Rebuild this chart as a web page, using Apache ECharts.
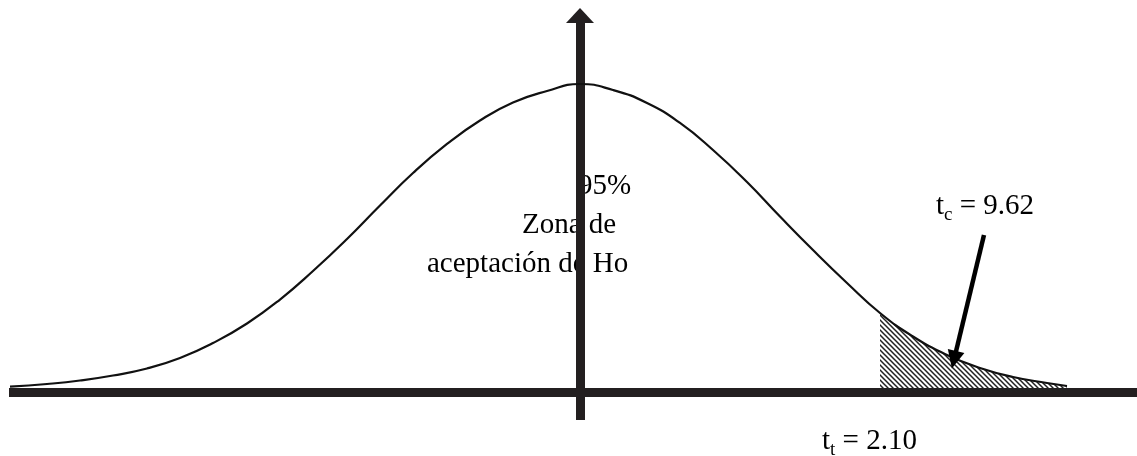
<!DOCTYPE html>
<html>
<head>
<meta charset="utf-8">
<script src="https://cdn.jsdelivr.net/npm/echarts@6/dist/echarts.min.js"></script>
<style>
  html, body { margin: 0; padding: 0; background: #fff; }
  #chart { width: 1137px; height: 456px; }
</style>
</head>
<body>
<div id="chart"></div>
<script>
// curve: x in t units, y as density height (peak 0.4)
var curveX = [-5.70, -5.33, -5.00, -4.67, -4.33, -4.00, -3.67, -3.33, -3.00,
              -2.67, -2.33, -2.00, -1.67, -1.33, -1.00, -0.67, -0.33, 0,
              0.33, 0.67, 1.00, 1.33, 1.67, 2.00, 2.33, 2.67, 3.00,
              3.33, 3.67, 4.00, 4.33, 4.67, 4.87];
var curveY = [0.0069, 0.0104, 0.0149, 0.0214, 0.0305, 0.0442, 0.0636, 0.0890, 0.1201,
              0.1571, 0.1987, 0.2422, 0.2844, 0.3221, 0.3526, 0.3760, 0.3909, 0.4000,
              0.3922, 0.3753, 0.3494, 0.3143, 0.2727, 0.2279, 0.1844, 0.1416, 0.1026,
              0.0721, 0.0481, 0.0312, 0.0195, 0.0117, 0.0078];
var rejectFrom = 3.00;           // start of the hatched region
var pointerLine = [[4.04, 0.2039], [3.74, 0.042]];   // annotation arrow, data coords

var curve = curveX.map(function (x, i) { return [x, curveY[i]]; });
var tail = curve.filter(function (p) { return p[0] >= rejectFrom; });

// diagonal hatching
var hatch = document.createElement('canvas');
hatch.width = 5; hatch.height = 5;
var hc = hatch.getContext('2d');
hc.strokeStyle = '#222';
hc.lineWidth = 1.5;
hc.beginPath();
hc.moveTo(-1, -1); hc.lineTo(6, 6);
hc.moveTo(-1, 4); hc.lineTo(1, 6);
hc.moveTo(4, -1); hc.lineTo(6, 1);
hc.stroke();

var ink = '#231f20';
var serif = '"Liberation Serif", "Times New Roman", serif';
var subRich = {
    m: { fontFamily: serif, fontSize: 29, fill: '#000', lineHeight: 29, verticalAlign: 'bottom' },
    s: { fontFamily: serif, fontSize: 19, fill: '#000', lineHeight: 29, verticalAlign: 'bottom', padding: [0, 0, -4, 0] }
};

var myChart = echarts.init(document.getElementById('chart'));

var option = {
    animation: false,
    grid: { left: 9, right: 0, top: 15.5, bottom: 36 },
    xAxis: {
        type: 'value',
        min: -5.71,
        max: 5.57,
        axisLine: { onZero: true, lineStyle: { color: ink, width: 9, cap: 'butt' } },
        axisTick: { show: false },
        axisLabel: { show: false },
        splitLine: { show: false }
    },
    yAxis: {
        type: 'value',
        min: -28 / 770,
        max: 376.5 / 770,
        axisLine: {
            show: true,
            onZero: true,
            symbol: ['none', 'triangle'],
            symbolSize: [28, 15],
            lineStyle: { color: ink, width: 9, cap: 'butt' }
        },
        axisTick: { show: false },
        axisLabel: { show: false },
        splitLine: { show: false }
    },
    series: [
        {
            type: 'line',
            data: tail,
            smooth: true,
            showSymbol: false,
            lineStyle: { width: 0 },
            areaStyle: { color: { image: hatch, repeat: 'repeat' }, opacity: 1 },
            z: 1
        },
        {
            type: 'line',
            data: curve,
            smooth: true,
            showSymbol: false,
            lineStyle: { color: '#111', width: 2.2 },
            z: 3,
            markLine: {
                silent: true,
                symbol: ['none', 'triangle'],
                symbolSize: [17, 18],
                label: { show: false },
                lineStyle: { color: '#000', width: 4.5, type: 'solid' },
                data: [[{ coord: pointerLine[0] }, { coord: pointerLine[1] }]]
            }
        }
    ],
    graphic: [
        { type: 'text', left: 578, top: 172, style: { text: '95%', font: '29px ' + serif, fill: '#000' } },
        { type: 'text', left: 522, top: 211, style: { text: 'Zona de', font: '29px ' + serif, fill: '#000' } },
        { type: 'text', left: 427, top: 250, style: { text: 'aceptación de Ho', font: '29px ' + serif, fill: '#000' } },
        { type: 'text', left: 936, top: 192, style: { text: '{m|t}{s|c}{m| = 9.62}', rich: subRich } },
        { type: 'text', left: 822, top: 427, style: { text: '{m|t}{s|t}{m| = 2.10}', rich: subRich } }
    ]
};

myChart.setOption(option);
</script>
</body>
</html>
